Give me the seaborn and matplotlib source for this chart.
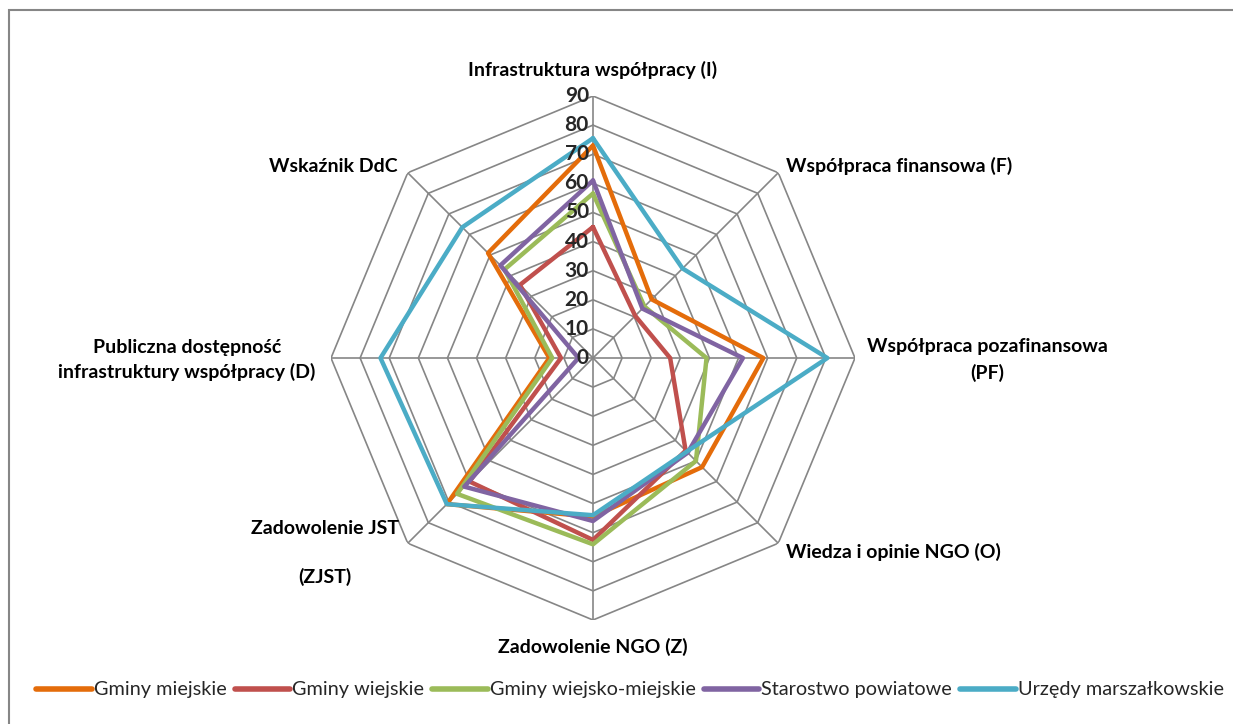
import numpy as np
import pandas as pd
import matplotlib
matplotlib.use("Agg")
import matplotlib.pyplot as plt
from matplotlib.lines import Line2D
from matplotlib.patches import Rectangle
import seaborn as sns

# axes, clockwise from the top
categories = ["I", "F", "PF", "O", "Z", "ZJST", "D", "DdC"]
series_names = ["Gminy miejskie", "Gminy wiejskie", "Gminy wiejsko-miejskie",
                "Starostwo powiatowe", "Urzędy marszałkowskie"]

gminy_miejskie = [73, 28.5, 58.5, 53, 54.5, 71, 15, 51]
gminy_wiejskie = [45, 20.5, 26.5, 45, 62.5, 60, 11, 35.5]
gminy_wiejsko_miejskie = [56.5, 25, 39, 50, 64, 66, 14, 43]
starostwo_powiatowe = [61, 24, 51.5, 46, 56, 62.5, 5, 45]
urzedy_marszalkowskie = [75.5, 43.5, 80.5, 45.5, 54, 71, 73, 63.5]

ticks = [0, 10, 20, 30, 40, 50, 60, 70, 80, 90]
colors = ["#E46C0A", "#C0504D", "#9BBB59", "#8064A2", "#4BACC6"]

sns.set_style("white")
plt.rcParams["font.family"] = ["Lato", "DejaVu Sans"]

all_values = [gminy_miejskie, gminy_wiejskie, gminy_wiejsko_miejskie,
              starostwo_powiatowe, urzedy_marszalkowskie]
n = len(categories)
angles = np.linspace(0, 2 * np.pi, n, endpoint=False)
closed_angles = np.append(angles, 2 * np.pi)

rows = []
for name, vals in zip(series_names, all_values):
    for a, v in zip(closed_angles, vals + vals[:1]):
        rows.append({"theta": a, "value": v, "series": name})
df = pd.DataFrame(rows)

fig = plt.figure(figsize=(12.33, 7.24), dpi=100)
W, H = 1233, 724
cx, cy, R = 593, 358, 262
ax = fig.add_axes([(cx - R) / W, (H - cy - R) / H, 2 * R / W, 2 * R / H],
                  projection="polar")
ax.set_theta_zero_location("N")
ax.set_theta_direction(-1)
ax.set_ylim(0, 90)
ax.grid(False)
ax.spines["polar"].set_visible(False)
ax.set_xticks([])
ax.set_yticks([])

# polygon grid
for t in ticks[1:]:
    ax.plot(closed_angles, [t] * (n + 1), color="#868686", lw=1.2, zorder=1)
for a in angles:
    ax.plot([a, a], [0, 90], color="#868686", lw=1.2, zorder=1)

sns.lineplot(data=df, x="theta", y="value", hue="series", palette=colors,
             hue_order=series_names, sort=False, estimator=None, lw=3.2,
             legend=False, ax=ax, zorder=3)
ax.set_xlabel("")
ax.set_ylabel("")

for t in ticks:
    ax.annotate(str(t), xy=(0, t), xytext=(-3, 0), textcoords="offset points",
                ha="right", va="center", fontsize=15, fontweight="bold", zorder=4)

lab = dict(fontsize=14, fontweight="bold", color="black")
fig.text(593 / W, 1 - 70 / H, "Infrastruktura współpracy (I)", ha="center", va="center", **lab)
fig.text(786 / W, 1 - 166 / H, "Współpraca finansowa (F)", ha="left", va="center", **lab)
fig.text(987 / W, 1 - 360 / H, "Współpraca pozafinansowa\n(PF)", ha="center", va="center",
         linespacing=1.55, **lab)
fig.text(786 / W, 1 - 552 / H, "Wiedza i opinie NGO (O)", ha="left", va="center", **lab)
fig.text(593 / W, 1 - 647 / H, "Zadowolenie NGO (Z)", ha="center", va="center", **lab)
fig.text(325 / W, 1 - 553 / H, "Zadowolenie JST\n(ZJST)", ha="center", va="center",
         linespacing=3.0, **lab)
fig.text(187 / W, 1 - 360 / H, "Publiczna dostępność\ninfrastruktury współpracy (D)",
         ha="center", va="center", linespacing=1.4, **lab)
fig.text(398 / W, 1 - 166 / H, "Wskaźnik DdC", ha="right", va="center", **lab)

handles = [Line2D([], [], color=c, lw=4) for c in colors]
fig.legend(handles, series_names, loc="center", bbox_to_anchor=(630 / W, 1 - 690 / H),
           ncol=5, frameon=False, fontsize=14.3, handlelength=2.8, handletextpad=0.1,
           columnspacing=0.4)

# outer frame: only top and left edges fall inside the picture
fig.patches.append(Rectangle((9 / W, -0.05), 1.1, (724 - 10) / H + 0.05,
                             transform=fig.transFigure, fill=False,
                             edgecolor="#868686", lw=1.5))

fig.savefig("out.png", dpi=100)
